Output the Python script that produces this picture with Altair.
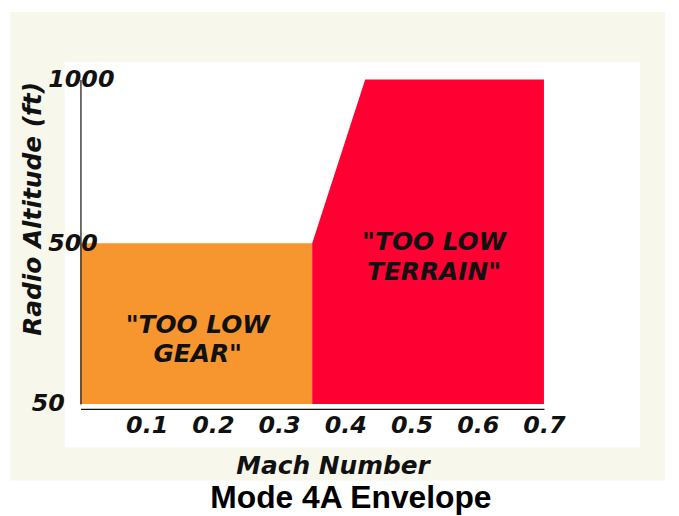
import altair as alt
import pandas as pd

# ---- data ----
mach_ticks = [0.1, 0.2, 0.3, 0.4, 0.5, 0.6, 0.7]
alt_ticks = [50, 500, 1000]
floor_alt = 50

gear_mach = [0.0, 0.35]
gear_top = [500, 500]

terrain_mach = [0.35, 0.43, 0.7]
terrain_top = [500, 1000, 1000]

region_names = ["gear", "terrain"]
region_colors = ["#f7962f", "#ff0033"]

label_text = ['"TOO LOW\nGEAR"', '"TOO LOW\nTERRAIN"']
label_mach = [0.177, 0.534]
label_alt = [272, 503]

# background panels (beige frame and white inner panel), in data units
panel_x = [-0.106, -0.024]
panel_x2 = [0.883, 0.845]
panel_lo = [-164, -72]
panel_hi = [1206, 1054]
panel_fill = ["#f7f7ec", "#ffffff"]

# ---- tables ----
areas = pd.DataFrame({
    "region": ["gear"] * len(gear_mach) + ["terrain"] * len(terrain_mach),
    "mach": gear_mach + terrain_mach,
    "top": gear_top + terrain_top,
    "bottom": [floor_alt] * (len(gear_mach) + len(terrain_mach)),
})
labels = pd.DataFrame({"text": label_text, "mach": label_mach, "alt": label_alt})
panels = pd.DataFrame({"x": panel_x, "x2": panel_x2, "lo": panel_lo,
                       "hi": panel_hi, "fill": panel_fill})

FONT = "DejaVu Sans"

x_scale = alt.Scale(domain=[0, 0.7], nice=False, zero=False)
y_scale = alt.Scale(domain=alt_ticks, range=[327, 165, 0], nice=False, zero=False)

x_axis = alt.Axis(
    values=mach_ticks, format=".1f", ticks=False, grid=False,
    domainColor="#111", domainWidth=1.2,
    labelFont=FONT, labelFontSize=24, labelFontStyle="italic", labelFontWeight="bold",
    labelColor="#111", labelPadding=5, labelFlush=False, labelOverlap=False,
    title="Mach Number", titleFont=FONT, titleFontSize=25, titleFontStyle="italic",
    titleFontWeight="bold", titleColor="#111", titleX=254, titleY=57,
    titleAlign="center", titleBaseline="middle", zindex=1,
)
y_axis = alt.Axis(
    values=alt_ticks, format="d", ticks=False, grid=False,
    domainColor="#111", domainWidth=1.2,
    labelFont=FONT, labelFontSize=24, labelFontStyle="italic", labelFontWeight="bold",
    labelColor="#111", labelPadding=33, labelBaseline="middle", labelFlush=False,
    labelOverlap=False,
    labelAlign={"condition": {"test": "datum.value == 50", "value": "center"}, "value": "left"},
    title="Radio Altitude (ft)", titleFont=FONT, titleFontSize=25, titleFontStyle="italic",
    titleFontWeight="bold", titleColor="#111", titleX=-48, titleY=130, titleAngle=270,
    titleAlign="center", titleBaseline="middle", zindex=1,
)

panel_layer = alt.Chart(panels).mark_rect().encode(
    x=alt.X("x:Q", scale=x_scale, axis=x_axis),
    x2="x2:Q",
    y=alt.Y("lo:Q", scale=y_scale, axis=y_axis),
    y2="hi:Q",
    color=alt.Color("fill:N", scale=None),
)

area_layer = alt.Chart(areas).mark_area(opacity=1).encode(
    x=alt.X("mach:Q", scale=x_scale, axis=x_axis),
    y=alt.Y("top:Q", scale=y_scale, axis=y_axis),
    y2="bottom:Q",
    color=alt.Color("region:N", scale=alt.Scale(domain=region_names, range=region_colors),
                    legend=None),
)

text_layer = alt.Chart(labels).mark_text(
    font=FONT, fontSize=25, fontStyle="italic", fontWeight="bold",
    lineBreak="\n", lineHeight=30, align="center", baseline="middle", color="#111",
).encode(
    x=alt.X("mach:Q", scale=x_scale, axis=x_axis),
    y=alt.Y("alt:Q", scale=y_scale, axis=y_axis),
    text="text:N",
)

chart = alt.layer(panel_layer, area_layer, text_layer).resolve_scale(
    color="independent"
).properties(
    width=467, height=332,
    title=alt.TitleParams("Mode 4A Envelope", orient="bottom", anchor="middle",
                          font="Liberation Sans", fontSize=32, fontWeight="bold",
                          color="#000", offset=3, dx=39),
    padding={"left": 2, "top": 2, "right": 5, "bottom": 2},
    background="white",
).configure_view(stroke=None)

chart.save("out.html", embed_options={"renderer": "svg", "actions": False})
